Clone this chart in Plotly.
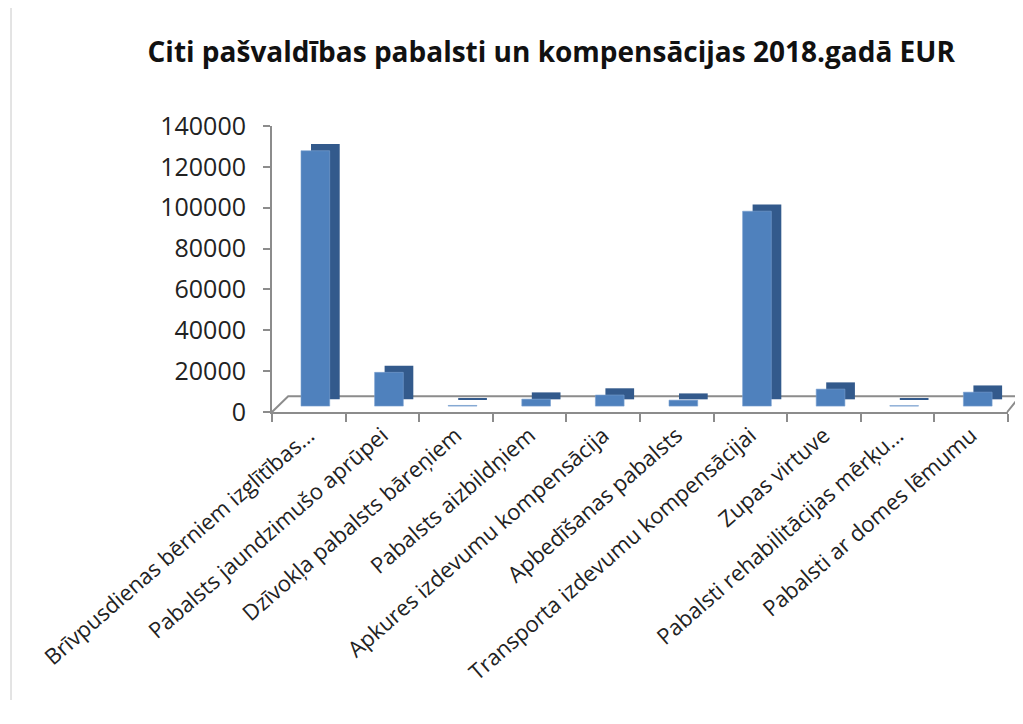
# Municipal benefits and compensations 2018, EUR (bar chart with fake depth)

import plotly.graph_objects as go

categories = [
    "Brīvpusdienas bērniem izglītības…",
    "Pabalsts jaundzimušo aprūpei",
    "Dzīvokļa pabalsts bāreņiem",
    "Pabalsts aizbildņiem",
    "Apkures izdevumu kompensācija",
    "Apbedīšanas pabalsts",
    "Transporta izdevumu kompensācijai",
    "Zupas virtuve",
    "Pabalsti rehabilitācijas mērķu…",
    "Pabalsti ar domes lēmumu",
]
amounts = [125000, 16500, 300, 3400, 5400, 2900, 95400, 8300, 200, 6800]

yTicks = [0, 20000, 40000, 60000, 80000, 100000, 120000, 140000]

# bars stand on the middle of the "floor", a little above the axis line
floorLift = 2900

fig = go.Figure()

# darker copy behind the front bars, nudged right and up -> side + top faces
fig.add_trace(go.Bar(
    x=categories, y=amounts, base=floorLift + 3300,
    width=0.39, offset=0.03,
    marker=dict(color="#335a8c", line=dict(width=0)),
    hoverinfo="skip", showlegend=False,
))
fig.add_trace(go.Bar(
    x=categories, y=amounts, base=floorLift,
    width=0.39, offset=-0.106,
    marker=dict(color="#4f81bd", line=dict(color="#7aa1d2", width=0.6)),
    showlegend=False,
))

fig.update_layout(
    width=1023, height=724,
    barmode="overlay",
    paper_bgcolor="white", plot_bgcolor="white",
    margin=dict(l=264, r=23, t=118, b=320),
    font=dict(family="Open Sans, Liberation Sans, sans-serif", color="#222222"),
    title=dict(
        text="<b>Citi pašvaldības pabalsti un kompensācijas 2018.gadā EUR</b>",
        x=0.531, xanchor="center", y=0.939, yanchor="middle",
        font=dict(size=28, color="#111111"),
    ),
    shapes=[
        # floor outline (back edge and side edges)
        dict(type="path", xref="paper", yref="paper",
             path="M 0,0 L 0.022,0.055 L 1.016,0.055 L 0.999,0",
             line=dict(color="#8c8c8c", width=2), layer="below"),
        # thin frame line at the far left
        dict(type="line", xref="paper", yref="paper",
             x0=-0.3546, x1=-0.3546, y0=-1.007, y1=1.45,
             line=dict(color="#c8c8c8", width=1)),
    ],
)

fig.update_yaxes(
    range=[0, 140000], tickvals=yTicks, tickformat="d",
    showgrid=False, zeroline=False,
    showline=True, linecolor="#8c8c8c", linewidth=2,
    ticks="outside", ticklen=7, tickcolor="#8c8c8c", tickwidth=2,
    ticklabelstandoff=12,
    tickfont=dict(size=25, color="#222222"),
)
fig.update_xaxes(
    showgrid=False, zeroline=False,
    showline=True, linecolor="#8c8c8c", linewidth=2,
    ticks="outside", ticklen=8, tickcolor="#8c8c8c", tickwidth=2,
    tickson="boundaries",
    tickangle=-41,
    tickfont=dict(size=22, color="#222222"),
)

fig.write_html("out.html")
